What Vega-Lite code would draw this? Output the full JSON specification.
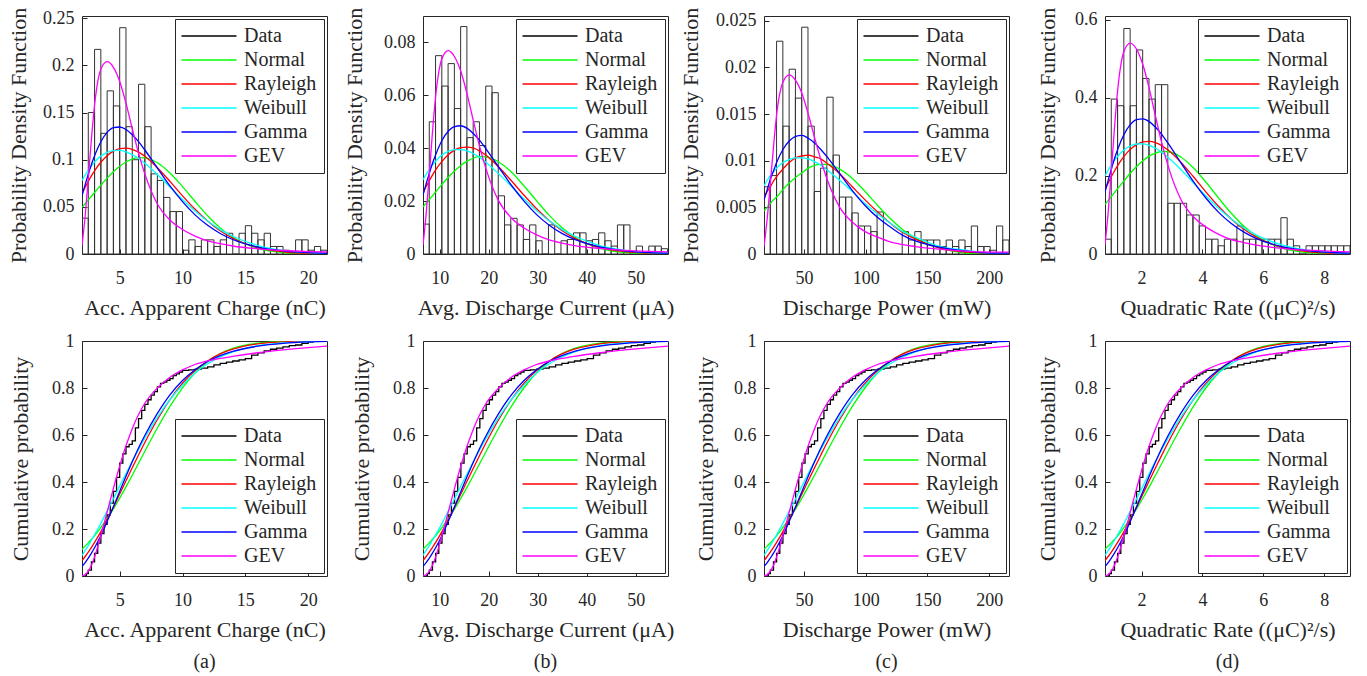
{
"$schema": "https://vega.github.io/schema/vega-lite/v6.json",
"background": "white",
"padding": {"left": 6, "top": 6, "right": 5, "bottom": 5},
"bounds": "flush",
"columns": 4,
"spacing": {"row": 87, "column": 96},
"resolve": {"scale": {"x": "independent", "y": "independent", "color": "independent"}, "legend": {"color": "independent"}, "axis": {"x": "independent", "y": "independent"}},
"config": {
  "font": "Liberation Serif",
  "view": {"stroke": "#262626", "strokeWidth": 1},
  "line": {"strokeWidth": 1.3},
  "axis": {"grid": false, "domain": false, "ticks": true, "tickSize": -5, "tickColor": "#262626", "labelFont": "Liberation Serif", "labelFontSize": 18, "labelColor": "#262626", "titleFont": "Liberation Serif", "titleFontSize": 22, "titleFontWeight": "normal", "titleColor": "#262626", "labelFlush": false, "labelOverlap": false},
  "axisX": {"labelPadding": 20, "titlePadding": 10},
  "axisY": {"labelPadding": 13, "titlePadding": 12},
  "legend": {"symbolType": "M-5.5,0H5.5", "symbolSize": 100, "symbolStrokeWidth": 1.5, "symbolOffset": 17, "labelOffset": 25, "labelFont": "Liberation Serif", "labelFontSize": 20, "labelColor": "#262626", "rowPadding": 4, "padding": 7, "strokeColor": "#262626", "fillColor": "white", "offset": 3, "labelLimit": 200},
  "title": {"font": "Liberation Serif", "fontSize": 20, "fontWeight": "normal", "color": "#262626", "offset": 12}
},
"datasets": {
"aH": [{"x":2,"x1":2.5,"y":0.038},{"x":2.5,"x1":3,"y":0.15},{"x":3,"x1":3.5,"y":0.217},{"x":3.5,"x1":4,"y":0.128},{"x":4,"x1":4.5,"y":0.173},{"x":4.5,"x1":5,"y":0.157},{"x":5,"x1":5.5,"y":0.24},{"x":5.5,"x1":6,"y":0.135},{"x":6,"x1":6.5,"y":0.1},{"x":6.5,"x1":7,"y":0.18},{"x":7,"x1":7.5,"y":0.135},{"x":7.5,"x1":8,"y":0.085},{"x":8,"x1":8.5,"y":0.078},{"x":8.5,"x1":9,"y":0.06},{"x":9,"x1":9.5,"y":0.045},{"x":9.5,"x1":10,"y":0.045},{"x":10,"x1":10.5,"y":0.004},{"x":10.5,"x1":11,"y":0.015},{"x":11,"x1":11.5,"y":0.008},{"x":11.5,"x1":12,"y":0.015},{"x":12,"x1":12.5,"y":0.015},{"x":12.5,"x1":13,"y":0.008},{"x":13,"x1":13.5,"y":0.015},{"x":13.5,"x1":14,"y":0.022},{"x":14,"x1":14.5,"y":0},{"x":14.5,"x1":15,"y":0.022},{"x":15,"x1":15.5,"y":0.03},{"x":15.5,"x1":16,"y":0.022},{"x":16,"x1":16.5,"y":0.015},{"x":16.5,"x1":17,"y":0.022},{"x":17,"x1":17.5,"y":0.008},{"x":17.5,"x1":18,"y":0.008},{"x":18,"x1":18.5,"y":0.004},{"x":18.5,"x1":19,"y":0},{"x":19,"x1":19.5,"y":0.015},{"x":19.5,"x1":20,"y":0.015},{"x":20,"x1":20.5,"y":0.004},{"x":20.5,"x1":21,"y":0.008},{"x":21,"x1":21.5,"y":0.004}],
"bH": [{"x":6.6,"x1":7.88,"y":0.0113},{"x":7.88,"x1":9.16,"y":0.05},{"x":9.16,"x1":10.44,"y":0.075},{"x":10.44,"x1":11.72,"y":0.0635},{"x":11.72,"x1":13,"y":0.072},{"x":13,"x1":14.28,"y":0.055},{"x":14.28,"x1":15.56,"y":0.086},{"x":15.56,"x1":16.84,"y":0.044},{"x":16.84,"x1":18.12,"y":0.05},{"x":18.12,"x1":19.4,"y":0.041},{"x":19.4,"x1":20.68,"y":0.0635},{"x":20.68,"x1":21.96,"y":0.061},{"x":21.96,"x1":23.24,"y":0.022},{"x":23.24,"x1":24.52,"y":0.011},{"x":24.52,"x1":25.8,"y":0.0135},{"x":25.8,"x1":27.08,"y":0.011},{"x":27.08,"x1":28.36,"y":0.0055},{"x":28.36,"x1":29.64,"y":0.011},{"x":29.64,"x1":30.92,"y":0.005},{"x":30.92,"x1":32.2,"y":0},{"x":32.2,"x1":33.48,"y":0.011},{"x":33.48,"x1":34.76,"y":0},{"x":34.76,"x1":36.04,"y":0.005},{"x":36.04,"x1":37.32,"y":0.0055},{"x":37.32,"x1":38.6,"y":0.008},{"x":38.6,"x1":39.88,"y":0.008},{"x":39.88,"x1":41.16,"y":0.005},{"x":41.16,"x1":42.44,"y":0.0055},{"x":42.44,"x1":43.72,"y":0.008},{"x":43.72,"x1":45,"y":0.005},{"x":45,"x1":46.28,"y":0.003},{"x":46.28,"x1":47.56,"y":0.011},{"x":47.56,"x1":48.84,"y":0.011},{"x":48.84,"x1":50.12,"y":0},{"x":50.12,"x1":51.4,"y":0.003},{"x":51.4,"x1":52.68,"y":0},{"x":52.68,"x1":53.96,"y":0.003},{"x":53.96,"x1":55.24,"y":0.003},{"x":55.24,"x1":56.52,"y":0.002}],
"cH": [{"x":17.7,"x1":22.79,"y":0.0072},{"x":22.79,"x1":27.87,"y":0.0084},{"x":27.87,"x1":32.96,"y":0.0228},{"x":32.96,"x1":38.04,"y":0.0137},{"x":38.04,"x1":43.13,"y":0.0198},{"x":43.13,"x1":48.21,"y":0.0167},{"x":48.21,"x1":53.3,"y":0.0243},{"x":53.3,"x1":58.38,"y":0.0137},{"x":58.38,"x1":63.47,"y":0.0067},{"x":63.47,"x1":68.55,"y":0.0092},{"x":68.55,"x1":73.64,"y":0.0168},{"x":73.64,"x1":78.72,"y":0.0106},{"x":78.72,"x1":83.81,"y":0.0061},{"x":83.81,"x1":88.89,"y":0.0061},{"x":88.89,"x1":93.98,"y":0.0044},{"x":93.98,"x1":99.06,"y":0.003},{"x":99.06,"x1":104.15,"y":0.003},{"x":104.15,"x1":109.23,"y":0.0024},{"x":109.23,"x1":114.32,"y":0.0045},{"x":114.32,"x1":119.4,"y":0},{"x":119.4,"x1":124.49,"y":0},{"x":124.49,"x1":129.57,"y":0},{"x":129.57,"x1":134.66,"y":0.0024},{"x":134.66,"x1":139.74,"y":0.0015},{"x":139.74,"x1":144.83,"y":0.0024},{"x":144.83,"x1":149.91,"y":0.0015},{"x":149.91,"x1":155,"y":0.0015},{"x":155,"x1":160.08,"y":0.0015},{"x":160.08,"x1":165.17,"y":0.0008},{"x":165.17,"x1":170.25,"y":0.0015},{"x":170.25,"x1":175.34,"y":0.0008},{"x":175.34,"x1":180.42,"y":0.0015},{"x":180.42,"x1":185.51,"y":0.0008},{"x":185.51,"x1":190.59,"y":0.003},{"x":190.59,"x1":195.68,"y":0.0008},{"x":195.68,"x1":200.76,"y":0.0008},{"x":200.76,"x1":205.85,"y":0.0004},{"x":205.85,"x1":210.93,"y":0.003},{"x":210.93,"x1":216,"y":0.0015}],
"dH": [{"x":0.8,"x1":1.006,"y":0.038},{"x":1.006,"x1":1.213,"y":0.397},{"x":1.213,"x1":1.419,"y":0.38},{"x":1.419,"x1":1.626,"y":0.578},{"x":1.626,"x1":1.832,"y":0.38},{"x":1.832,"x1":2.038,"y":0.523},{"x":2.038,"x1":2.245,"y":0.45},{"x":2.245,"x1":2.451,"y":0.397},{"x":2.451,"x1":2.658,"y":0.434},{"x":2.658,"x1":2.864,"y":0.434},{"x":2.864,"x1":3.07,"y":0.13},{"x":3.07,"x1":3.277,"y":0.13},{"x":3.277,"x1":3.483,"y":0.13},{"x":3.483,"x1":3.69,"y":0.1},{"x":3.69,"x1":3.896,"y":0.1},{"x":3.896,"x1":4.102,"y":0.072},{"x":4.102,"x1":4.309,"y":0.038},{"x":4.309,"x1":4.515,"y":0.038},{"x":4.515,"x1":4.722,"y":0.021},{"x":4.722,"x1":4.928,"y":0.038},{"x":4.928,"x1":5.134,"y":0.038},{"x":5.134,"x1":5.341,"y":0.072},{"x":5.341,"x1":5.547,"y":0.038},{"x":5.547,"x1":5.754,"y":0.038},{"x":5.754,"x1":5.96,"y":0.038},{"x":5.96,"x1":6.166,"y":0.038},{"x":6.166,"x1":6.373,"y":0.038},{"x":6.373,"x1":6.579,"y":0.038},{"x":6.579,"x1":6.786,"y":0.093},{"x":6.786,"x1":6.992,"y":0.038},{"x":6.992,"x1":7.198,"y":0.021},{"x":7.198,"x1":7.405,"y":0},{"x":7.405,"x1":7.611,"y":0.021},{"x":7.611,"x1":7.818,"y":0.021},{"x":7.818,"x1":8.024,"y":0.021},{"x":8.024,"x1":8.23,"y":0.021},{"x":8.23,"x1":8.437,"y":0.021},{"x":8.437,"x1":8.643,"y":0.021},{"x":8.643,"x1":8.85,"y":0.021}],
"aP": [{"x":2,"Normal":0.0494,"Rayleigh":0.0641,"Weibull":0.078,"Gamma":0.0618,"GEV":0.009},{"x":2.25,"Normal":0.0533,"Rayleigh":0.0708,"Weibull":0.0837,"Gamma":0.0735,"GEV":0.04},{"x":2.5,"Normal":0.0573,"Rayleigh":0.077,"Weibull":0.0889,"Gamma":0.0847,"GEV":0.08},{"x":2.75,"Normal":0.0612,"Rayleigh":0.0828,"Weibull":0.0935,"Gamma":0.095,"GEV":0.122},{"x":3,"Normal":0.0652,"Rayleigh":0.0882,"Weibull":0.0975,"Gamma":0.1042,"GEV":0.158},{"x":3.5,"Normal":0.073,"Rayleigh":0.0973,"Weibull":0.1038,"Gamma":0.1191,"GEV":0.196},{"x":4,"Normal":0.0805,"Rayleigh":0.1043,"Weibull":0.1077,"Gamma":0.129,"GEV":0.204},{"x":4.5,"Normal":0.0872,"Rayleigh":0.1091,"Weibull":0.1097,"Gamma":0.134,"GEV":0.198},{"x":5,"Normal":0.093,"Rayleigh":0.1117,"Weibull":0.1098,"Gamma":0.1347,"GEV":0.183},{"x":5.5,"Normal":0.0976,"Rayleigh":0.1123,"Weibull":0.1083,"Gamma":0.132,"GEV":0.16},{"x":6,"Normal":0.1007,"Rayleigh":0.111,"Weibull":0.1054,"Gamma":0.1264,"GEV":0.133},{"x":6.5,"Normal":0.1022,"Rayleigh":0.108,"Weibull":0.1013,"Gamma":0.1191,"GEV":0.107},{"x":7,"Normal":0.102,"Rayleigh":0.1036,"Weibull":0.0962,"Gamma":0.1103,"GEV":0.085},{"x":8,"Normal":0.0968,"Rayleigh":0.0915,"Weibull":0.0843,"Gamma":0.0912,"GEV":0.053},{"x":9,"Normal":0.086,"Rayleigh":0.077,"Weibull":0.071,"Gamma":0.0722,"GEV":0.036},{"x":10,"Normal":0.0715,"Rayleigh":0.0617,"Weibull":0.0578,"Gamma":0.0556,"GEV":0.026},{"x":11,"Normal":0.0557,"Rayleigh":0.0474,"Weibull":0.0456,"Gamma":0.0415,"GEV":0.019},{"x":12,"Normal":0.0406,"Rayleigh":0.0349,"Weibull":0.0349,"Gamma":0.0304,"GEV":0.014},{"x":13,"Normal":0.0277,"Rayleigh":0.0246,"Weibull":0.0259,"Gamma":0.0218,"GEV":0.011},{"x":14,"Normal":0.0177,"Rayleigh":0.0167,"Weibull":0.0188,"Gamma":0.0154,"GEV":0.0085},{"x":16,"Normal":0.0059,"Rayleigh":0.0068,"Weibull":0.009,"Gamma":0.0074,"GEV":0.0055},{"x":18,"Normal":0.0015,"Rayleigh":0.0024,"Weibull":0.0039,"Gamma":0.0034,"GEV":0.0037},{"x":20,"Normal":0.0003,"Rayleigh":0.0007,"Weibull":0.0015,"Gamma":0.0015,"GEV":0.0026},{"x":21.5,"Normal":0.0001,"Rayleigh":0.0003,"Weibull":0.0007,"Gamma":0.0008,"GEV":0.0021}],
"bP": [{"x":6.6,"Normal":0.0178,"Rayleigh":0.0231,"Weibull":0.0281,"Gamma":0.0222,"GEV":0.0034},{"x":7.24,"Normal":0.0192,"Rayleigh":0.0255,"Weibull":0.0301,"Gamma":0.0265,"GEV":0.0151},{"x":7.89,"Normal":0.0206,"Rayleigh":0.0277,"Weibull":0.032,"Gamma":0.0305,"GEV":0.0302},{"x":8.53,"Normal":0.022,"Rayleigh":0.0298,"Weibull":0.0337,"Gamma":0.0342,"GEV":0.046},{"x":9.18,"Normal":0.0235,"Rayleigh":0.0318,"Weibull":0.0351,"Gamma":0.0375,"GEV":0.0596},{"x":10.47,"Normal":0.0263,"Rayleigh":0.035,"Weibull":0.0374,"Gamma":0.0429,"GEV":0.0739},{"x":11.75,"Normal":0.029,"Rayleigh":0.0375,"Weibull":0.0388,"Gamma":0.0464,"GEV":0.0769},{"x":13.04,"Normal":0.0314,"Rayleigh":0.0393,"Weibull":0.0395,"Gamma":0.0482,"GEV":0.0746},{"x":14.33,"Normal":0.0335,"Rayleigh":0.0402,"Weibull":0.0395,"Gamma":0.0485,"GEV":0.069},{"x":15.62,"Normal":0.0351,"Rayleigh":0.0404,"Weibull":0.039,"Gamma":0.0475,"GEV":0.0603},{"x":16.91,"Normal":0.0363,"Rayleigh":0.04,"Weibull":0.0379,"Gamma":0.0455,"GEV":0.0501},{"x":18.2,"Normal":0.0368,"Rayleigh":0.0389,"Weibull":0.0365,"Gamma":0.0429,"GEV":0.0403},{"x":19.49,"Normal":0.0367,"Rayleigh":0.0373,"Weibull":0.0346,"Gamma":0.0397,"GEV":0.032},{"x":22.06,"Normal":0.0348,"Rayleigh":0.0329,"Weibull":0.0303,"Gamma":0.0328,"GEV":0.02},{"x":24.64,"Normal":0.031,"Rayleigh":0.0277,"Weibull":0.0256,"Gamma":0.026,"GEV":0.0136},{"x":27.22,"Normal":0.0257,"Rayleigh":0.0222,"Weibull":0.0208,"Gamma":0.02,"GEV":0.0098},{"x":29.79,"Normal":0.0201,"Rayleigh":0.0171,"Weibull":0.0164,"Gamma":0.0149,"GEV":0.0072},{"x":32.37,"Normal":0.0146,"Rayleigh":0.0126,"Weibull":0.0126,"Gamma":0.0109,"GEV":0.0053},{"x":34.95,"Normal":0.01,"Rayleigh":0.0089,"Weibull":0.0093,"Gamma":0.0078,"GEV":0.0041},{"x":37.52,"Normal":0.0064,"Rayleigh":0.006,"Weibull":0.0068,"Gamma":0.0055,"GEV":0.0032},{"x":42.68,"Normal":0.0021,"Rayleigh":0.0024,"Weibull":0.0032,"Gamma":0.0027,"GEV":0.0021},{"x":47.83,"Normal":0.0005,"Rayleigh":0.0009,"Weibull":0.0014,"Gamma":0.0012,"GEV":0.0014},{"x":52.99,"Normal":0.0001,"Rayleigh":0.0003,"Weibull":0.0005,"Gamma":0.0005,"GEV":0.001},{"x":56.6,"Normal":0,"Rayleigh":0.0001,"Weibull":0.0003,"Gamma":0.0003,"GEV":0.0008}],
"cP": [{"x":17.7,"Normal":0.0046,"Rayleigh":0.006,"Weibull":0.0073,"Gamma":0.0058,"GEV":0.0008},{"x":20.3,"Normal":0.005,"Rayleigh":0.0067,"Weibull":0.0079,"Gamma":0.0069,"GEV":0.0038},{"x":22.8,"Normal":0.0054,"Rayleigh":0.0072,"Weibull":0.0084,"Gamma":0.008,"GEV":0.0075},{"x":25.4,"Normal":0.0058,"Rayleigh":0.0078,"Weibull":0.0088,"Gamma":0.0089,"GEV":0.0115},{"x":27.9,"Normal":0.0061,"Rayleigh":0.0083,"Weibull":0.0092,"Gamma":0.0098,"GEV":0.0149},{"x":33,"Normal":0.0069,"Rayleigh":0.0091,"Weibull":0.0098,"Gamma":0.0112,"GEV":0.0184},{"x":38.1,"Normal":0.0076,"Rayleigh":0.0098,"Weibull":0.0101,"Gamma":0.0121,"GEV":0.0192},{"x":43.3,"Normal":0.0082,"Rayleigh":0.0103,"Weibull":0.0103,"Gamma":0.0126,"GEV":0.0186},{"x":48.4,"Normal":0.0087,"Rayleigh":0.0105,"Weibull":0.0103,"Gamma":0.0127,"GEV":0.0172},{"x":53.5,"Normal":0.0092,"Rayleigh":0.0106,"Weibull":0.0102,"Gamma":0.0124,"GEV":0.015},{"x":58.6,"Normal":0.0095,"Rayleigh":0.0104,"Weibull":0.0099,"Gamma":0.0119,"GEV":0.0125},{"x":63.7,"Normal":0.0096,"Rayleigh":0.0102,"Weibull":0.0095,"Gamma":0.0112,"GEV":0.0101},{"x":68.8,"Normal":0.0096,"Rayleigh":0.0097,"Weibull":0.009,"Gamma":0.0104,"GEV":0.008},{"x":79,"Normal":0.0091,"Rayleigh":0.0086,"Weibull":0.0079,"Gamma":0.0086,"GEV":0.005},{"x":89.2,"Normal":0.0081,"Rayleigh":0.0072,"Weibull":0.0067,"Gamma":0.0068,"GEV":0.0034},{"x":99.5,"Normal":0.0067,"Rayleigh":0.0058,"Weibull":0.0054,"Gamma":0.0052,"GEV":0.0024},{"x":109.7,"Normal":0.0052,"Rayleigh":0.0045,"Weibull":0.0043,"Gamma":0.0039,"GEV":0.0018},{"x":119.9,"Normal":0.0038,"Rayleigh":0.0033,"Weibull":0.0033,"Gamma":0.0029,"GEV":0.0013},{"x":130.1,"Normal":0.0026,"Rayleigh":0.0023,"Weibull":0.0024,"Gamma":0.002,"GEV":0.001},{"x":140.3,"Normal":0.0017,"Rayleigh":0.0016,"Weibull":0.0018,"Gamma":0.0014,"GEV":0.0008},{"x":160.8,"Normal":0.0006,"Rayleigh":0.0006,"Weibull":0.0008,"Gamma":0.0007,"GEV":0.0005},{"x":181.2,"Normal":0.0001,"Rayleigh":0.0002,"Weibull":0.0004,"Gamma":0.0003,"GEV":0.0003},{"x":201.7,"Normal":0,"Rayleigh":0.0001,"Weibull":0.0001,"Gamma":0.0001,"GEV":0.0002},{"x":216,"Normal":0,"Rayleigh":0,"Weibull":0.0001,"Gamma":0.0001,"GEV":0.0002}],
"dP": [{"x":0.8,"Normal":0.127,"Rayleigh":0.1647,"Weibull":0.2005,"Gamma":0.1588,"GEV":0.0239},{"x":0.904,"Normal":0.137,"Rayleigh":0.182,"Weibull":0.2151,"Gamma":0.1889,"GEV":0.106},{"x":1.008,"Normal":0.1473,"Rayleigh":0.1979,"Weibull":0.2285,"Gamma":0.2177,"GEV":0.212},{"x":1.111,"Normal":0.1573,"Rayleigh":0.2128,"Weibull":0.2403,"Gamma":0.2442,"GEV":0.3233},{"x":1.215,"Normal":0.1676,"Rayleigh":0.2267,"Weibull":0.2506,"Gamma":0.2678,"GEV":0.4187},{"x":1.423,"Normal":0.1876,"Rayleigh":0.2501,"Weibull":0.2668,"Gamma":0.3061,"GEV":0.5194},{"x":1.63,"Normal":0.2069,"Rayleigh":0.2681,"Weibull":0.2768,"Gamma":0.3315,"GEV":0.5406},{"x":1.838,"Normal":0.2241,"Rayleigh":0.2804,"Weibull":0.2819,"Gamma":0.3444,"GEV":0.5247},{"x":2.045,"Normal":0.239,"Rayleigh":0.2871,"Weibull":0.2822,"Gamma":0.3462,"GEV":0.485},{"x":2.253,"Normal":0.2508,"Rayleigh":0.2886,"Weibull":0.2783,"Gamma":0.3392,"GEV":0.424},{"x":2.46,"Normal":0.2588,"Rayleigh":0.2853,"Weibull":0.2709,"Gamma":0.3248,"GEV":0.3525},{"x":2.668,"Normal":0.2627,"Rayleigh":0.2776,"Weibull":0.2603,"Gamma":0.3061,"GEV":0.2836},{"x":2.875,"Normal":0.2621,"Rayleigh":0.2663,"Weibull":0.2472,"Gamma":0.2835,"GEV":0.2253},{"x":3.29,"Normal":0.2488,"Rayleigh":0.2352,"Weibull":0.2167,"Gamma":0.2344,"GEV":0.1405},{"x":3.705,"Normal":0.221,"Rayleigh":0.1979,"Weibull":0.1825,"Gamma":0.1856,"GEV":0.0954},{"x":4.12,"Normal":0.1838,"Rayleigh":0.1586,"Weibull":0.1485,"Gamma":0.1429,"GEV":0.0689},{"x":4.535,"Normal":0.1431,"Rayleigh":0.1218,"Weibull":0.1172,"Gamma":0.1067,"GEV":0.0504},{"x":4.95,"Normal":0.1043,"Rayleigh":0.0897,"Weibull":0.0897,"Gamma":0.0781,"GEV":0.0371},{"x":5.365,"Normal":0.0712,"Rayleigh":0.0632,"Weibull":0.0666,"Gamma":0.056,"GEV":0.0292},{"x":5.78,"Normal":0.0455,"Rayleigh":0.0429,"Weibull":0.0483,"Gamma":0.0396,"GEV":0.0225},{"x":6.61,"Normal":0.0152,"Rayleigh":0.0175,"Weibull":0.0231,"Gamma":0.019,"GEV":0.0146},{"x":7.44,"Normal":0.0039,"Rayleigh":0.0062,"Weibull":0.01,"Gamma":0.0087,"GEV":0.0098},{"x":8.27,"Normal":0.0008,"Rayleigh":0.0018,"Weibull":0.0039,"Gamma":0.0039,"GEV":0.0069},{"x":8.85,"Normal":0.0003,"Rayleigh":0.0008,"Weibull":0.0018,"Gamma":0.0021,"GEV":0.0056}],
"C": [{"xa":2,"xb":6.6,"xc":17.7,"xd":0.8,"Normal":0.114,"Rayleigh":0.066,"Weibull":0.088,"Gamma":0.041,"GEV":0},{"xa":2.25,"xb":7.24,"xc":20.3,"xd":0.904,"Normal":0.127,"Rayleigh":0.083,"Weibull":0.108,"Gamma":0.057,"GEV":0.006},{"xa":2.5,"xb":7.89,"xc":22.8,"xd":1.008,"Normal":0.141,"Rayleigh":0.102,"Weibull":0.129,"Gamma":0.076,"GEV":0.021},{"xa":2.75,"xb":8.53,"xc":25.4,"xd":1.111,"Normal":0.156,"Rayleigh":0.122,"Weibull":0.152,"Gamma":0.097,"GEV":0.046},{"xa":3,"xb":9.18,"xc":27.9,"xd":1.215,"Normal":0.171,"Rayleigh":0.143,"Weibull":0.175,"Gamma":0.12,"GEV":0.081},{"xa":3.5,"xb":10.47,"xc":33,"xd":1.423,"Normal":0.206,"Rayleigh":0.189,"Weibull":0.224,"Gamma":0.172,"GEV":0.172},{"xa":4,"xb":11.75,"xc":38.1,"xd":1.63,"Normal":0.244,"Rayleigh":0.24,"Weibull":0.276,"Gamma":0.232,"GEV":0.272},{"xa":4.5,"xb":13.04,"xc":43.3,"xd":1.838,"Normal":0.286,"Rayleigh":0.293,"Weibull":0.329,"Gamma":0.295,"GEV":0.373},{"xa":5,"xb":14.33,"xc":48.4,"xd":2.045,"Normal":0.331,"Rayleigh":0.349,"Weibull":0.383,"Gamma":0.36,"GEV":0.468},{"xa":5.5,"xb":15.62,"xc":53.5,"xd":2.253,"Normal":0.379,"Rayleigh":0.405,"Weibull":0.436,"Gamma":0.424,"GEV":0.554},{"xa":6,"xb":16.91,"xc":58.6,"xd":2.46,"Normal":0.429,"Rayleigh":0.461,"Weibull":0.488,"Gamma":0.486,"GEV":0.627},{"xa":6.5,"xb":18.2,"xc":63.7,"xd":2.668,"Normal":0.48,"Rayleigh":0.515,"Weibull":0.538,"Gamma":0.545,"GEV":0.687},{"xa":7,"xb":19.49,"xc":68.8,"xd":2.875,"Normal":0.531,"Rayleigh":0.568,"Weibull":0.587,"Gamma":0.598,"GEV":0.735},{"xa":8,"xb":22.06,"xc":79,"xd":3.29,"Normal":0.63,"Rayleigh":0.666,"Weibull":0.675,"Gamma":0.692,"GEV":0.8},{"xa":9,"xb":24.64,"xc":89.2,"xd":3.705,"Normal":0.722,"Rayleigh":0.751,"Weibull":0.751,"Gamma":0.771,"GEV":0.846},{"xa":10,"xb":27.22,"xc":99.5,"xd":4.12,"Normal":0.801,"Rayleigh":0.82,"Weibull":0.813,"Gamma":0.832,"GEV":0.877},{"xa":11,"xb":29.79,"xc":109.7,"xd":4.535,"Normal":0.865,"Rayleigh":0.874,"Weibull":0.864,"Gamma":0.878,"GEV":0.9},{"xa":12,"xb":32.37,"xc":119.9,"xd":4.95,"Normal":0.913,"Rayleigh":0.915,"Weibull":0.903,"Gamma":0.913,"GEV":0.915},{"xa":13,"xb":34.95,"xc":130.1,"xd":5.365,"Normal":0.947,"Rayleigh":0.945,"Weibull":0.932,"Gamma":0.938,"GEV":0.926},{"xa":14,"xb":37.52,"xc":140.3,"xd":5.78,"Normal":0.969,"Rayleigh":0.965,"Weibull":0.954,"Gamma":0.956,"GEV":0.935},{"xa":16,"xb":42.68,"xc":160.8,"xd":6.61,"Normal":0.991,"Rayleigh":0.988,"Weibull":0.98,"Gamma":0.978,"GEV":0.95},{"xa":18,"xb":47.83,"xc":181.2,"xd":7.44,"Normal":0.998,"Rayleigh":0.996,"Weibull":0.992,"Gamma":0.99,"GEV":0.962},{"xa":20,"xb":52.99,"xc":201.7,"xd":8.27,"Normal":1,"Rayleigh":0.999,"Weibull":0.997,"Gamma":0.996,"GEV":0.972},{"xa":21.5,"xb":56.6,"xc":216,"xd":8.85,"Normal":1,"Rayleigh":1,"Weibull":0.999,"Gamma":0.998,"GEV":0.978}],
"E": [{"xa":2.2,"xb":7.12,"xc":19.7,"xd":0.883,"Data":0},{"xa":2.35,"xb":7.5,"xc":21.3,"xd":0.945,"Data":0.01},{"xa":2.5,"xb":7.89,"xc":22.8,"xd":1.008,"Data":0.025},{"xa":2.75,"xb":8.53,"xc":25.4,"xd":1.111,"Data":0.06},{"xa":3,"xb":9.18,"xc":27.9,"xd":1.215,"Data":0.096},{"xa":3.25,"xb":9.82,"xc":30.5,"xd":1.319,"Data":0.14},{"xa":3.5,"xb":10.47,"xc":33,"xd":1.423,"Data":0.18},{"xa":3.75,"xb":11.11,"xc":35.6,"xd":1.526,"Data":0.22},{"xa":4,"xb":11.75,"xc":38.1,"xd":1.63,"Data":0.26},{"xa":4.25,"xb":12.4,"xc":40.7,"xd":1.734,"Data":0.31},{"xa":4.5,"xb":13.04,"xc":43.3,"xd":1.838,"Data":0.36},{"xa":4.75,"xb":13.69,"xc":45.8,"xd":1.941,"Data":0.42},{"xa":5,"xb":14.33,"xc":48.4,"xd":2.045,"Data":0.48},{"xa":5.25,"xb":14.98,"xc":50.9,"xd":2.149,"Data":0.52},{"xa":5.5,"xb":15.62,"xc":53.5,"xd":2.253,"Data":0.55},{"xa":5.75,"xb":16.26,"xc":56,"xd":2.356,"Data":0.56},{"xa":6,"xb":16.91,"xc":58.6,"xd":2.46,"Data":0.575},{"xa":6.25,"xb":17.55,"xc":61.1,"xd":2.564,"Data":0.63},{"xa":6.5,"xb":18.2,"xc":63.7,"xd":2.668,"Data":0.67},{"xa":6.75,"xb":18.84,"xc":66.2,"xd":2.771,"Data":0.705},{"xa":7,"xb":19.49,"xc":68.8,"xd":2.875,"Data":0.73},{"xa":7.25,"xb":20.13,"xc":71.4,"xd":2.979,"Data":0.75},{"xa":7.5,"xb":20.77,"xc":73.9,"xd":3.083,"Data":0.77},{"xa":7.75,"xb":21.42,"xc":76.5,"xd":3.186,"Data":0.785},{"xa":8,"xb":22.06,"xc":79,"xd":3.29,"Data":0.805},{"xa":8.25,"xb":22.71,"xc":81.6,"xd":3.394,"Data":0.82},{"xa":8.5,"xb":23.35,"xc":84.1,"xd":3.498,"Data":0.825},{"xa":8.75,"xb":23.99,"xc":86.7,"xd":3.601,"Data":0.833},{"xa":9,"xb":24.64,"xc":89.2,"xd":3.705,"Data":0.84},{"xa":9.25,"xb":25.28,"xc":91.8,"xd":3.809,"Data":0.853},{"xa":9.5,"xb":25.93,"xc":94.4,"xd":3.913,"Data":0.86},{"xa":9.75,"xb":26.57,"xc":96.9,"xd":4.016,"Data":0.868},{"xa":10,"xb":27.22,"xc":99.5,"xd":4.12,"Data":0.875},{"xa":10.5,"xb":28.5,"xc":104.6,"xd":4.328,"Data":0.877},{"xa":11,"xb":29.79,"xc":109.7,"xd":4.535,"Data":0.88},{"xa":11.5,"xb":31.08,"xc":114.8,"xd":4.743,"Data":0.885},{"xa":12,"xb":32.37,"xc":119.9,"xd":4.95,"Data":0.89},{"xa":12.5,"xb":33.66,"xc":125,"xd":5.158,"Data":0.898},{"xa":13,"xb":34.95,"xc":130.1,"xd":5.365,"Data":0.905},{"xa":13.5,"xb":36.24,"xc":135.2,"xd":5.573,"Data":0.91},{"xa":14,"xb":37.52,"xc":140.3,"xd":5.78,"Data":0.915},{"xa":14.5,"xb":38.81,"xc":145.5,"xd":5.988,"Data":0.92},{"xa":15,"xb":40.1,"xc":150.6,"xd":6.195,"Data":0.925},{"xa":15.5,"xb":41.39,"xc":155.7,"xd":6.403,"Data":0.94},{"xa":16,"xb":42.68,"xc":160.8,"xd":6.61,"Data":0.95},{"xa":16.5,"xb":43.97,"xc":165.9,"xd":6.818,"Data":0.958},{"xa":17,"xb":45.26,"xc":171,"xd":7.025,"Data":0.965},{"xa":17.5,"xb":46.54,"xc":176.1,"xd":7.233,"Data":0.97},{"xa":18,"xb":47.83,"xc":181.2,"xd":7.44,"Data":0.975},{"xa":18.5,"xb":49.12,"xc":186.3,"xd":7.648,"Data":0.98},{"xa":19,"xb":50.41,"xc":191.4,"xd":7.855,"Data":0.983},{"xa":19.5,"xb":51.7,"xc":196.6,"xd":8.063,"Data":0.99},{"xa":20,"xb":52.99,"xc":201.7,"xd":8.27,"Data":0.995},{"xa":20.4,"xb":54.02,"xc":205.7,"xd":8.436,"Data":1},{"xa":21.5,"xb":56.6,"xc":216,"xd":8.85,"Data":1}]
},
"concat": [
{"width": 245, "height": 238,
 "encoding": {"x": {"field": "x", "type": "quantitative", "title": "Acc. Apparent Charge (nC)", "scale": {"domain": [2, 21.5], "nice": false, "zero": false}, "axis": {"values": [5, 10, 15, 20]}},
   "y": {"field": "y", "type": "quantitative", "title": "Probability Density Function", "scale": {"domain": [0, 0.2524], "nice": false}, "axis": {"values": [0, 0.05, 0.1, 0.15, 0.2, 0.25], "format": "~g", "titlePadding": 12}}},
 "layer": [
  {"data": {"name": "aH"}, "mark": {"type": "rect", "filled": false, "color": "#333333", "strokeWidth": 1, "clip": true}, "encoding": {"x2": {"field": "x1"}, "y2": {"datum": 0}}},
  {"data": {"name": "aP"}, "transform": [{"fold": ["Normal", "Rayleigh", "Weibull", "Gamma", "GEV"], "as": ["s", "y"]}], "mark": {"type": "line", "interpolate": "monotone", "clip": true},
   "encoding": {"color": {"field": "s", "type": "nominal", "scale": {"domain": ["Data", "Normal", "Rayleigh", "Weibull", "Gamma", "GEV"], "range": ["#000000", "#00ff00", "#ff0000", "#00ffff", "#0000ff", "#ff00ff"]}, "legend": {"title": null, "orient": "top-right"}}}}
 ]},
{"width": 245, "height": 238,
 "encoding": {"x": {"field": "x", "type": "quantitative", "title": "Avg. Discharge Current (μA)", "scale": {"domain": [6.6, 56.6], "nice": false, "zero": false}, "axis": {"values": [10, 20, 30, 40, 50]}},
   "y": {"field": "y", "type": "quantitative", "title": "Probability Density Function", "scale": {"domain": [0, 0.09], "nice": false}, "axis": {"values": [0, 0.02, 0.04, 0.06, 0.08], "format": "~g", "titlePadding": 17}}},
 "layer": [
  {"data": {"name": "bH"}, "mark": {"type": "rect", "filled": false, "color": "#333333", "strokeWidth": 1, "clip": true}, "encoding": {"x2": {"field": "x1"}, "y2": {"datum": 0}}},
  {"data": {"name": "bP"}, "transform": [{"fold": ["Normal", "Rayleigh", "Weibull", "Gamma", "GEV"], "as": ["s", "y"]}], "mark": {"type": "line", "interpolate": "monotone", "clip": true},
   "encoding": {"color": {"field": "s", "type": "nominal", "scale": {"domain": ["Data", "Normal", "Rayleigh", "Weibull", "Gamma", "GEV"], "range": ["#000000", "#00ff00", "#ff0000", "#00ffff", "#0000ff", "#ff00ff"]}, "legend": {"title": null, "orient": "top-right"}}}}
 ]},
{"width": 245, "height": 238,
 "encoding": {"x": {"field": "x", "type": "quantitative", "title": "Discharge Power (mW)", "scale": {"domain": [17.7, 216], "nice": false, "zero": false}, "axis": {"values": [50, 100, 150, 200]}},
   "y": {"field": "y", "type": "quantitative", "title": "Probability Density Function", "scale": {"domain": [0, 0.0255], "nice": false}, "axis": {"values": [0, 0.005, 0.01, 0.015, 0.02, 0.025], "format": "~g", "titlePadding": 13}}},
 "layer": [
  {"data": {"name": "cH"}, "mark": {"type": "rect", "filled": false, "color": "#333333", "strokeWidth": 1, "clip": true}, "encoding": {"x2": {"field": "x1"}, "y2": {"datum": 0}}},
  {"data": {"name": "cP"}, "transform": [{"fold": ["Normal", "Rayleigh", "Weibull", "Gamma", "GEV"], "as": ["s", "y"]}], "mark": {"type": "line", "interpolate": "monotone", "clip": true},
   "encoding": {"color": {"field": "s", "type": "nominal", "scale": {"domain": ["Data", "Normal", "Rayleigh", "Weibull", "Gamma", "GEV"], "range": ["#000000", "#00ff00", "#ff0000", "#00ffff", "#0000ff", "#ff00ff"]}, "legend": {"title": null, "orient": "top-right"}}}}
 ]},
{"width": 245, "height": 238,
 "encoding": {"x": {"field": "x", "type": "quantitative", "title": "Quadratic Rate ((μC)²/s)", "scale": {"domain": [0.8, 8.85], "nice": false, "zero": false}, "axis": {"values": [2, 4, 6, 8]}},
   "y": {"field": "y", "type": "quantitative", "title": "Probability Density Function", "scale": {"domain": [0, 0.61], "nice": false}, "axis": {"values": [0, 0.2, 0.4, 0.6], "format": "~g", "titlePadding": 15}}},
 "layer": [
  {"data": {"name": "dH"}, "mark": {"type": "rect", "filled": false, "color": "#333333", "strokeWidth": 1, "clip": true}, "encoding": {"x2": {"field": "x1"}, "y2": {"datum": 0}}},
  {"data": {"name": "dP"}, "transform": [{"fold": ["Normal", "Rayleigh", "Weibull", "Gamma", "GEV"], "as": ["s", "y"]}], "mark": {"type": "line", "interpolate": "monotone", "clip": true},
   "encoding": {"color": {"field": "s", "type": "nominal", "scale": {"domain": ["Data", "Normal", "Rayleigh", "Weibull", "Gamma", "GEV"], "range": ["#000000", "#00ff00", "#ff0000", "#00ffff", "#0000ff", "#ff00ff"]}, "legend": {"title": null, "orient": "top-right"}}}}
 ]},
{"width": 245, "height": 235, "title": {"text": "(a)", "orient": "bottom"},
 "encoding": {"x": {"field": "xa", "type": "quantitative", "title": "Acc. Apparent Charge (nC)", "scale": {"domain": [2, 21.5], "nice": false, "zero": false}, "axis": {"values": [5, 10, 15, 20]}},
   "y": {"field": "y", "type": "quantitative", "title": "Cumulative probability", "scale": {"domain": [0, 1], "nice": false}, "axis": {"values": [0, 0.2, 0.4, 0.6, 0.8, 1], "format": "~g", "titlePadding": 19}},
   "color": {"field": "s", "type": "nominal", "scale": {"domain": ["Data", "Normal", "Rayleigh", "Weibull", "Gamma", "GEV"], "range": ["#000000", "#00ff00", "#ff0000", "#00ffff", "#0000ff", "#ff00ff"]}, "legend": {"title": null, "orient": "bottom-right"}}},
 "layer": [
  {"data": {"name": "E"}, "transform": [{"fold": ["Data"], "as": ["s", "y"]}], "mark": {"type": "line", "interpolate": "step-after", "clip": true}},
  {"data": {"name": "C"}, "transform": [{"fold": ["Normal", "Rayleigh", "Weibull", "Gamma", "GEV"], "as": ["s", "y"]}], "mark": {"type": "line", "interpolate": "monotone", "clip": true}}
 ]},
{"width": 245, "height": 235, "title": {"text": "(b)", "orient": "bottom"},
 "encoding": {"x": {"field": "xb", "type": "quantitative", "title": "Avg. Discharge Current (μA)", "scale": {"domain": [6.6, 56.6], "nice": false, "zero": false}, "axis": {"values": [10, 20, 30, 40, 50]}},
   "y": {"field": "y", "type": "quantitative", "title": "Cumulative probability", "scale": {"domain": [0, 1], "nice": false}, "axis": {"values": [0, 0.2, 0.4, 0.6, 0.8, 1], "format": "~g", "titlePadding": 19}},
   "color": {"field": "s", "type": "nominal", "scale": {"domain": ["Data", "Normal", "Rayleigh", "Weibull", "Gamma", "GEV"], "range": ["#000000", "#00ff00", "#ff0000", "#00ffff", "#0000ff", "#ff00ff"]}, "legend": {"title": null, "orient": "bottom-right"}}},
 "layer": [
  {"data": {"name": "E"}, "transform": [{"fold": ["Data"], "as": ["s", "y"]}], "mark": {"type": "line", "interpolate": "step-after", "clip": true}},
  {"data": {"name": "C"}, "transform": [{"fold": ["Normal", "Rayleigh", "Weibull", "Gamma", "GEV"], "as": ["s", "y"]}], "mark": {"type": "line", "interpolate": "monotone", "clip": true}}
 ]},
{"width": 245, "height": 235, "title": {"text": "(c)", "orient": "bottom"},
 "encoding": {"x": {"field": "xc", "type": "quantitative", "title": "Discharge Power (mW)", "scale": {"domain": [17.7, 216], "nice": false, "zero": false}, "axis": {"values": [50, 100, 150, 200]}},
   "y": {"field": "y", "type": "quantitative", "title": "Cumulative probability", "scale": {"domain": [0, 1], "nice": false}, "axis": {"values": [0, 0.2, 0.4, 0.6, 0.8, 1], "format": "~g", "titlePadding": 16}},
   "color": {"field": "s", "type": "nominal", "scale": {"domain": ["Data", "Normal", "Rayleigh", "Weibull", "Gamma", "GEV"], "range": ["#000000", "#00ff00", "#ff0000", "#00ffff", "#0000ff", "#ff00ff"]}, "legend": {"title": null, "orient": "bottom-right"}}},
 "layer": [
  {"data": {"name": "E"}, "transform": [{"fold": ["Data"], "as": ["s", "y"]}], "mark": {"type": "line", "interpolate": "step-after", "clip": true}},
  {"data": {"name": "C"}, "transform": [{"fold": ["Normal", "Rayleigh", "Weibull", "Gamma", "GEV"], "as": ["s", "y"]}], "mark": {"type": "line", "interpolate": "monotone", "clip": true}}
 ]},
{"width": 245, "height": 235, "title": {"text": "(d)", "orient": "bottom"},
 "encoding": {"x": {"field": "xd", "type": "quantitative", "title": "Quadratic Rate ((μC)²/s)", "scale": {"domain": [0.8, 8.85], "nice": false, "zero": false}, "axis": {"values": [2, 4, 6, 8]}},
   "y": {"field": "y", "type": "quantitative", "title": "Cumulative probability", "scale": {"domain": [0, 1], "nice": false}, "axis": {"values": [0, 0.2, 0.4, 0.6, 0.8, 1], "format": "~g", "titlePadding": 15}},
   "color": {"field": "s", "type": "nominal", "scale": {"domain": ["Data", "Normal", "Rayleigh", "Weibull", "Gamma", "GEV"], "range": ["#000000", "#00ff00", "#ff0000", "#00ffff", "#0000ff", "#ff00ff"]}, "legend": {"title": null, "orient": "bottom-right"}}},
 "layer": [
  {"data": {"name": "E"}, "transform": [{"fold": ["Data"], "as": ["s", "y"]}], "mark": {"type": "line", "interpolate": "step-after", "clip": true}},
  {"data": {"name": "C"}, "transform": [{"fold": ["Normal", "Rayleigh", "Weibull", "Gamma", "GEV"], "as": ["s", "y"]}], "mark": {"type": "line", "interpolate": "monotone", "clip": true}}
 ]}
]
}
